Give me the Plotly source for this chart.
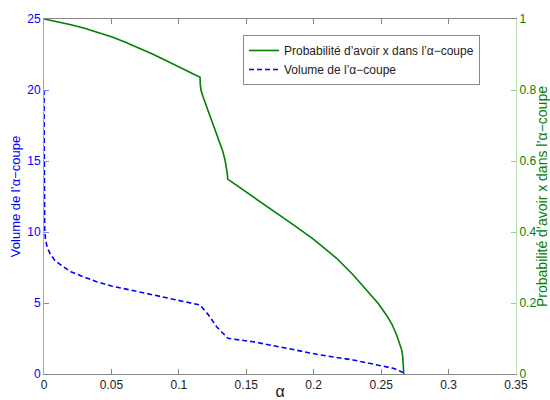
import plotly.graph_objects as go

# Probability curve (right axis)
alpha_prob = [0, 0.01, 0.02, 0.03, 0.04, 0.05, 0.06, 0.07, 0.08, 0.09, 0.10, 0.11, 0.1157,
              0.1159, 0.1164, 0.118, 0.1206, 0.123, 0.1256, 0.128, 0.1305, 0.1325, 0.1342,
              0.1353, 0.1359, 0.1362,
              0.145, 0.1552, 0.165, 0.175, 0.185, 0.1997, 0.21, 0.217, 0.2293, 0.235,
              0.2417, 0.248, 0.2541, 0.258, 0.2615, 0.264, 0.2652, 0.266, 0.2665, 0.2668]
prob = [1.0, 0.993, 0.984, 0.974, 0.963, 0.950, 0.935, 0.919, 0.902, 0.884, 0.866, 0.847, 0.836,
        0.815, 0.80, 0.78, 0.753, 0.725, 0.697, 0.673, 0.650, 0.628, 0.603,
        0.58, 0.565, 0.549,
        0.526, 0.499, 0.473, 0.447, 0.420, 0.380, 0.349, 0.326, 0.279, 0.255,
        0.226, 0.198, 0.165, 0.140, 0.110, 0.085, 0.068, 0.05, 0.03, 0.0]

# Volume curve (left axis)
alpha_vol = [0, 0.0002, 0.0005, 0.0012, 0.0025, 0.0044, 0.008, 0.0143, 0.02, 0.0292, 0.039,
             0.05, 0.0638, 0.0885, 0.105, 0.1157, 0.122, 0.128, 0.1364, 0.1552, 0.18,
             0.2047, 0.2293, 0.249, 0.259, 0.2664, 0.2668]
vol = [20, 14, 10.2, 9.4, 8.9, 8.5, 8.0, 7.56, 7.2, 6.85, 6.5,
       6.2, 5.92, 5.45, 5.12, 4.86, 4.15, 3.33, 2.51, 2.27, 1.81,
       1.34, 0.99, 0.63, 0.40, 0.1, 0]

x_ticks = [0, 0.05, 0.1, 0.15, 0.2, 0.25, 0.3, 0.35]
y1_ticks = [0, 5, 10, 15, 20, 25]
y2_ticks = [0, 0.2, 0.4, 0.6, 0.8, 1]

FONT = "Liberation Sans, Arial, sans-serif"
GREEN = "#008000"
BLUE = "#0000ff"

fig = go.Figure()
fig.add_trace(go.Scatter(
    x=alpha_prob, y=prob, mode="lines", yaxis="y2",
    name="Probabilité d’avoir x dans l’α−coupe",
    line=dict(color=GREEN, width=1.6),
))
fig.add_trace(go.Scatter(
    x=alpha_vol, y=vol, mode="lines", yaxis="y",
    name="Volume de l’α−coupe",
    line=dict(color=BLUE, width=1.6, dash="5px,3px"),
))

fig.update_layout(
    width=550, height=400,
    margin=dict(l=44, r=34, t=19, b=26, autoexpand=False),
    paper_bgcolor="white", plot_bgcolor="white",
    font=dict(family=FONT, size=12, color="#222"),
    showlegend=True,
    legend=dict(
        x=0.4216, y=0.955, xanchor="left", yanchor="top",
        bordercolor="#888", borderwidth=1, bgcolor="white",
        font=dict(size=12, color="#222"),
        itemwidth=30, tracegroupgap=0,
    ),
    xaxis=dict(
        range=[0, 0.35], tickvals=x_ticks, ticktext=[str(v) for v in x_ticks],
        ticks="inside", ticklen=5, tickcolor="#888",
        showline=True, linecolor="#888", linewidth=1, mirror="ticks",
        showgrid=False, zeroline=False, automargin=False,
        tickfont=dict(size=12, color="#222"),
        title=dict(text="α", font=dict(size=16, color="#222"), standoff=5),
    ),
    yaxis=dict(
        range=[0, 25], tickvals=y1_ticks, ticktext=[str(v) for v in y1_ticks],
        ticks="inside", ticklen=5, tickcolor="#8080ff",
        showline=True, linecolor="#9a9aff", linewidth=1,
        showgrid=False, zeroline=False, automargin=False,
        tickfont=dict(size=12, color=BLUE),
        title=dict(text="Volume de l’α−coupe", font=dict(size=13, color=BLUE), standoff=3),
    ),
    yaxis2=dict(
        range=[0, 1], tickvals=y2_ticks, ticktext=[str(v) for v in y2_ticks],
        overlaying="y", side="right", anchor="x",
        ticks="inside", ticklen=5, tickcolor="#8fcf8f",
        showline=True, linecolor="#b0dcb0", linewidth=1,
        showgrid=False, zeroline=False, automargin=False,
        tickfont=dict(size=12, color=GREEN),
        title=dict(text="Probabilité d’avoir x dans l’α−coupe", font=dict(size=14, color=GREEN), standoff=3),
    ),
)

fig.write_html(
    "out.html",
    config={"displayModeBar": False},
    post_script="document.body.style.margin='0';document.body.style.overflow='hidden';",
)
